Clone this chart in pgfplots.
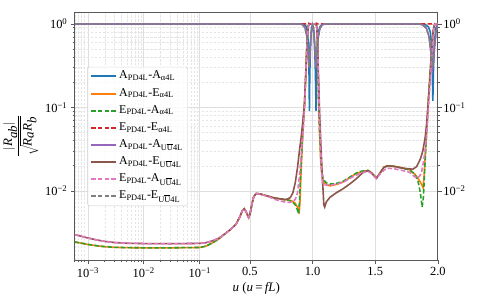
\documentclass[border=0pt]{standalone}
\usepackage{fontspec}
\setmainfont{Liberation Serif}
\usepackage{pgfplots}
\pgfplotsset{compat=1.18}
\definecolor{mplblue}{HTML}{1F77B4}
\definecolor{mplorange}{HTML}{FF7F0E}
\definecolor{mplgreen}{HTML}{2CA02C}
\definecolor{mplred}{HTML}{D62728}
\definecolor{mplpurple}{HTML}{9467BD}
\definecolor{mplbrown}{HTML}{8C564B}
\definecolor{mplpink}{HTML}{E377C2}
\definecolor{mplgray}{HTML}{7F7F7F}
\tikzset{sl/.style={line width=1.6bp}, dl/.style={line width=1.6bp, dash pattern=on 4.5bp off 2.2bp}}
\newcommand{\UU}{U$\overline{\hbox{U}}$}
\begin{document}
\begin{tikzpicture}
\begin{axis}[name=main, width=364.4bp, height=248.7bp, scale only axis, ymode=log,
  ymin=0.001486, ymax=1.38,
  ytick={0.01,0.1,1}, yticklabels={10\textsuperscript{−2},10\textsuperscript{−1},10\textsuperscript{0}},
  tick label style={font=\fontsize{12.5bp}{14bp}\selectfont},
  x coord trafo/.code={\pgfmathparse{(#1<0.1) ? (ln(#1)/ln(10)) : (-1+2.227*(#1-0.1))}},
  xmin=0.000596, xmax=2,
  xtick={0.001,0.01,0.1,0.5,1,1.5,2},
  xticklabels={10\textsuperscript{−3},10\textsuperscript{−2},10\textsuperscript{−1},0.5,1.0,1.5,2.0},
  minor xtick={0.0006,0.0007,0.0008,0.0009,0.002,0.003,0.004,0.005,0.006,0.007,0.008,0.009,0.02,0.03,0.04,0.05,0.06,0.07,0.08,0.09},
  grid=both,
  major grid style={draw=black!13, line width=0.8pt},
  minor grid style={draw=black!10, line width=0.5pt, dash pattern=on 2.5pt off 1.5pt},
  tick align=outside, xtick pos=bottom, ytick pos=both,
  major tick length=4pt, minor tick length=2.2pt,
  tick style={draw=black!65, line width=0.7pt},
  axis line style={draw=black!65, line width=0.9pt},
  xlabel={\textit{u} (\textit{u}\,=\,\textit{fL})},
  ylabel={$\displaystyle\frac{|\textit{R}_{\textit{ab}}|}{\sqrt{\textit{R}_{\textit{a}}\textit{R}_{\textit{b}}}}$},
  label style={font=\fontsize{13bp}{14bp}\selectfont},
  xlabel style={yshift=2bp},
  legend cell align=left,
  legend style={at={(0.034,0.78)}, anchor=north west, draw=black!20, rounded corners=2.5pt,
    fill=white, fill opacity=0.8, text opacity=1, draw opacity=1, font=\fontsize{12bp}{13bp}\selectfont,
    nodes={inner ysep=2bp, text height=8.5bp, text depth=3.5bp},
    row sep=1.2bp, inner xsep=3pt, inner ysep=1.5bp},
  legend image code/.code={\draw[mark repeat=2,mark phase=2,#1,line width=2bp] plot coordinates {(0bp,0bp) (12.5bp,0bp) (25bp,0bp)};},
]
% A_PD4L - A_alpha4L
\addplot[sl, color=mplblue] coordinates {(0.000596,1) (0.1,1) (0.5,1) (0.9,1) (0.93,0.99) (0.95,0.93) (0.96,0.8) (0.967,0.55) (0.972,0.25) (0.975,0.09) (0.978,0.25) (0.984,0.6) (0.992,0.9) (1.0,0.97) (1.008,0.9) (1.016,0.6) (1.023,0.25) (1.028,0.09) (1.032,0.25) (1.038,0.55) (1.046,0.8) (1.06,0.93) (1.08,0.99) (1.1,1) (1.85,1) (1.9,0.98) (1.925,0.92) (1.94,0.8) (1.95,0.55) (1.956,0.25) (1.96,0.12) (1.964,0.25) (1.972,0.6) (1.985,0.9) (2.0,0.98)};
\addlegendentry{A\textsubscript{PD4L}-A\textsubscript{α4L}}
% A_PD4L - E_alpha4L
\addplot[sl, color=mplorange] coordinates {(0.000596,0.00245) (0.0008,0.00236) (0.001,0.00229) (0.0015,0.0022) (0.002,0.00215) (0.003,0.00211) (0.005,0.00209) (0.01,0.00208) (0.03,0.00208) (0.1,0.0021) (0.15,0.00218) (0.2,0.00238) (0.25,0.00265) (0.3,0.00305) (0.35,0.0035) (0.39,0.004) (0.42,0.0049) (0.44,0.0058) (0.455,0.0061) (0.47,0.0056) (0.49,0.0048) (0.5,0.0052) (0.515,0.0068) (0.53,0.0085) (0.55,0.0093) (0.58,0.0092) (0.65,0.0086) (0.7,0.0082) (0.75,0.008) (0.78,0.0078) (0.8,0.0078) (0.822,0.0077) (0.842,0.0075) (0.862,0.0071) (0.88,0.0064) (0.894,0.0057) (0.9,0.0075) (0.907,0.015) (0.916,0.03) (0.925,0.06) (0.935,0.1) (0.944,0.22) (0.952,0.45) (0.959,0.75) (0.966,0.95) (0.975,1) (1.0,1) (1.025,1) (1.033,0.95) (1.038,0.7) (1.043,0.35) (1.048,0.12) (1.056,0.05) (1.066,0.022) (1.074,0.0155) (1.085,0.0128) (1.11,0.0118) (1.14,0.0115) (1.163,0.0117) (1.2,0.0121) (1.243,0.0128) (1.3,0.0145) (1.35,0.0162) (1.391,0.017) (1.444,0.0175) (1.47,0.0165) (1.51,0.0142) (1.54,0.0165) (1.57,0.0193) (1.6,0.02) (1.65,0.0197) (1.7,0.019) (1.775,0.0179) (1.814,0.016) (1.84,0.0142) (1.86,0.0128) (1.875,0.0115) (1.882,0.0109) (1.89,0.015) (1.9,0.028) (1.91,0.05) (1.92,0.095) (1.935,0.22) (1.95,0.45) (1.96,0.75) (1.97,0.95) (1.98,1) (2.0,1)};
\addlegendentry{A\textsubscript{PD4L}-E\textsubscript{α4L}}
% E_PD4L - A_alpha4L
\addplot[dl, color=mplgreen] coordinates {(0.000596,0.00245) (0.0008,0.00236) (0.001,0.00229) (0.0015,0.0022) (0.002,0.00215) (0.003,0.00211) (0.005,0.00209) (0.01,0.00208) (0.03,0.00208) (0.1,0.0021) (0.15,0.00218) (0.2,0.00238) (0.25,0.00265) (0.3,0.00305) (0.35,0.0035) (0.39,0.004) (0.42,0.0049) (0.44,0.0058) (0.455,0.0061) (0.47,0.0056) (0.49,0.0048) (0.5,0.0052) (0.515,0.0068) (0.53,0.0085) (0.55,0.0093) (0.58,0.0092) (0.65,0.0086) (0.7,0.0082) (0.75,0.008) (0.78,0.0078) (0.8,0.0078) (0.822,0.0076) (0.842,0.0073) (0.862,0.0068) (0.878,0.006) (0.888,0.0053) (0.896,0.0075) (0.905,0.016) (0.915,0.032) (0.925,0.062) (0.935,0.1) (0.944,0.22) (0.952,0.45) (0.959,0.75) (0.966,0.95) (0.975,1) (1.0,1) (1.025,1) (1.033,0.95) (1.038,0.7) (1.043,0.35) (1.048,0.12) (1.056,0.052) (1.066,0.024) (1.074,0.017) (1.085,0.0138) (1.11,0.0125) (1.14,0.0121) (1.163,0.0121) (1.2,0.0124) (1.243,0.013) (1.3,0.0147) (1.35,0.0164) (1.391,0.0172) (1.444,0.0176) (1.47,0.0165) (1.51,0.0142) (1.54,0.0165) (1.57,0.0192) (1.6,0.0199) (1.65,0.0196) (1.7,0.019) (1.775,0.0178) (1.814,0.016) (1.84,0.0135) (1.86,0.0095) (1.875,0.0064) (1.885,0.0085) (1.895,0.018) (1.905,0.035) (1.915,0.07) (1.925,0.13) (1.937,0.25) (1.95,0.45) (1.96,0.75) (1.97,0.95) (1.98,1) (2.0,1)};
\addlegendentry{E\textsubscript{PD4L}-A\textsubscript{α4L}}
% E_PD4L - E_alpha4L
\addplot[dl, color=mplred] coordinates {(0.000596,1) (0.5,1) (0.96,1) (0.97,1.02) (0.98,1) (1.02,1) (1.03,1.02) (1.04,1) (1.95,1) (1.965,1.02) (1.98,1) (2.0,1)};
\addlegendentry{E\textsubscript{PD4L}-E\textsubscript{α4L}}
% A_PD4L - A_UU4L
\addplot[sl, color=mplpurple] coordinates {(0.000596,1) (0.5,1) (0.9,1) (0.92,0.98) (0.94,0.9) (0.955,0.7) (0.965,0.45) (0.972,0.3) (0.98,0.45) (0.99,0.8) (1.0,0.95) (1.01,0.8) (1.02,0.45) (1.028,0.3) (1.036,0.45) (1.046,0.7) (1.06,0.9) (1.08,0.98) (1.1,1) (1.85,1) (1.88,0.97) (1.91,0.88) (1.93,0.7) (1.945,0.45) (1.958,0.3) (1.97,0.45) (1.985,0.8) (2.0,0.97)};
\addlegendentry{A\textsubscript{PD4L}-A\textsubscript{\UU4L}}
% A_PD4L - E_UU4L
\addplot[sl, color=mplbrown] coordinates {(0.000596,0.003) (0.0008,0.00285) (0.001,0.00274) (0.0015,0.00258) (0.002,0.00249) (0.003,0.00241) (0.005,0.00236) (0.01,0.00234) (0.03,0.00233) (0.1,0.00235) (0.15,0.0024) (0.2,0.00252) (0.25,0.0027) (0.3,0.00305) (0.35,0.0035) (0.39,0.004) (0.42,0.0049) (0.44,0.0058) (0.455,0.0061) (0.47,0.0056) (0.49,0.0048) (0.5,0.0052) (0.515,0.0068) (0.53,0.0085) (0.55,0.0093) (0.58,0.0092) (0.65,0.0086) (0.7,0.0082) (0.75,0.008) (0.78,0.0079) (0.8,0.008) (0.822,0.0083) (0.842,0.0094) (0.862,0.0125) (0.88,0.019) (0.895,0.03) (0.91,0.045) (0.925,0.075) (0.935,0.11) (0.945,0.22) (0.953,0.45) (0.96,0.75) (0.967,0.95) (0.975,1) (1.0,1) (1.025,1) (1.033,0.95) (1.04,0.6) (1.047,0.25) (1.055,0.1) (1.065,0.04) (1.078,0.015) (1.09,0.0068) (1.097,0.0064) (1.11,0.0074) (1.14,0.0084) (1.19,0.0095) (1.243,0.0106) (1.3,0.0122) (1.352,0.0141) (1.39,0.016) (1.42,0.0172) (1.444,0.0174) (1.47,0.0165) (1.51,0.0142) (1.54,0.0165) (1.57,0.0192) (1.6,0.02) (1.65,0.0197) (1.7,0.019) (1.75,0.0185) (1.8,0.0182) (1.83,0.0195) (1.86,0.024) (1.88,0.03) (1.9,0.045) (1.91,0.063) (1.92,0.095) (1.935,0.2) (1.95,0.45) (1.96,0.75) (1.97,0.95) (1.98,1) (2.0,1)};
\addlegendentry{A\textsubscript{PD4L}-E\textsubscript{\UU4L}}
% E_PD4L - A_UU4L
\addplot[dl, color=mplpink] coordinates {(0.000596,0.003) (0.0008,0.00285) (0.001,0.00274) (0.0015,0.00258) (0.002,0.00249) (0.003,0.00241) (0.005,0.00236) (0.01,0.00234) (0.03,0.00233) (0.1,0.00235) (0.15,0.0024) (0.2,0.00252) (0.25,0.0027) (0.3,0.00305) (0.35,0.0035) (0.39,0.004) (0.42,0.0049) (0.44,0.0058) (0.455,0.0061) (0.47,0.0056) (0.49,0.0048) (0.5,0.0052) (0.515,0.0068) (0.53,0.0085) (0.55,0.0093) (0.58,0.0092) (0.65,0.0085) (0.7,0.0079) (0.769,0.0074) (0.8,0.0073) (0.822,0.0073) (0.842,0.0075) (0.862,0.0079) (0.88,0.0095) (0.895,0.015) (0.905,0.022) (0.915,0.035) (0.928,0.06) (0.936,0.1) (0.945,0.22) (0.953,0.45) (0.96,0.75) (0.967,0.95) (0.975,1) (1.0,1) (1.025,1) (1.033,0.95) (1.04,0.6) (1.046,0.25) (1.053,0.1) (1.062,0.04) (1.072,0.018) (1.08,0.0122) (1.1,0.0118) (1.16,0.0118) (1.243,0.0126) (1.3,0.0142) (1.391,0.0165) (1.444,0.0171) (1.47,0.0162) (1.51,0.014) (1.54,0.016) (1.59,0.0188) (1.65,0.0184) (1.7,0.0178) (1.775,0.0167) (1.814,0.0148) (1.84,0.0142) (1.867,0.016) (1.885,0.022) (1.9,0.032) (1.912,0.05) (1.925,0.1) (1.94,0.22) (1.953,0.45) (1.963,0.75) (1.972,0.95) (1.98,1) (2.0,1)};
\addlegendentry{E\textsubscript{PD4L}-A\textsubscript{\UU4L}}
% E_PD4L - E_UU4L
\addplot[dl, color=mplgray] coordinates {(0.000596,1) (0.5,1) (0.9,1) (0.92,0.98) (0.94,0.9) (0.955,0.7) (0.965,0.45) (0.972,0.3) (0.98,0.45) (0.99,0.8) (1.0,0.95) (1.01,0.8) (1.02,0.45) (1.028,0.3) (1.036,0.45) (1.046,0.7) (1.06,0.9) (1.08,0.98) (1.1,1) (1.85,1) (1.88,0.97) (1.91,0.88) (1.93,0.7) (1.945,0.45) (1.958,0.3) (1.97,0.45) (1.985,0.8) (2.0,0.97)};
\addlegendentry{E\textsubscript{PD4L}-E\textsubscript{\UU4L}}
\end{axis}
\begin{axis}[width=364.4bp, height=248.7bp, scale only axis, ymode=log,
  ymin=0.001486, ymax=1.38,
  ytick={0.01,0.1,1}, yticklabels={10\textsuperscript{−2},10\textsuperscript{−1},10\textsuperscript{0}},
  tick label style={font=\fontsize{12.5bp}{14bp}\selectfont},
  at={(main.south west)}, anchor=south west,
  xmin=0, xmax=1, hide x axis, axis y line*=right,
  ytick pos=right, yticklabel pos=right,
  y axis line style={draw=none},
  major tick length=0pt, minor tick length=0pt,
  yticklabel style={xshift=2bp}]
\end{axis}
\path (main.south west) ++(-73.3bp,-45bp) (main.north east) ++(40.3bp,12.3bp);
\end{tikzpicture}
\end{document}
